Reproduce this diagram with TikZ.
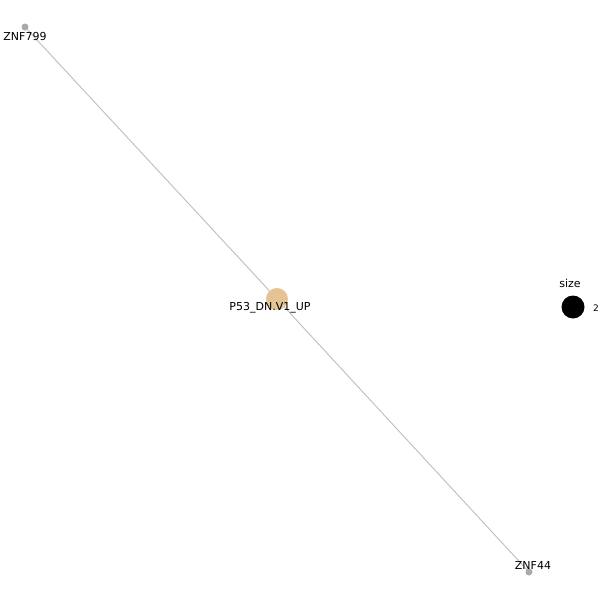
\documentclass[tikz,border=0pt]{standalone}
\usepackage{fontspec}
\setmainfont{DejaVu Sans}
\definecolor{edgegrey}{RGB}{190,190,190}
\definecolor{nodegrey}{RGB}{170,170,170}
\definecolor{tan}{RGB}{228,196,148}
\begin{document}
\begin{tikzpicture}[x=1pt,y=-1pt,
  gene/.style={circle,fill=nodegrey,inner sep=0pt,minimum size=7pt},
  hub/.style={circle,fill=tan,inner sep=0pt,minimum size=22pt},
  lbl/.style={font=\fontsize{11}{13}\selectfont,inner sep=0pt},
  edge/.style={draw=edgegrey,line width=0.9pt}]
\useasboundingbox (0,0) rectangle (600,600);
\fill[white] (0,0) rectangle (600,600);
\node[gene] (z799) at (25,27) {};
\node[gene] (z44) at (529,572) {};
\node[hub] (p53) at (277,299) {};
\draw[edge] (z799) -- (p53);
\draw[edge] (p53) -- (z44);
\node[lbl] (z799l) at (25,36) {ZNF799};
\node[lbl] (p53l) at (270,308) {P53\_DN.V1\_UP};
\node[lbl] (z44l) at (533,565) {ZNF44};
\node[lbl] (sizel) at (570,283) {size};
\node[circle,fill=black,inner sep=0pt,minimum size=23pt] (leg) at (573,307) {};
\node[lbl,font=\fontsize{9}{11}\selectfont] (two) at (596,308) {2};
\end{tikzpicture}
\end{document}
